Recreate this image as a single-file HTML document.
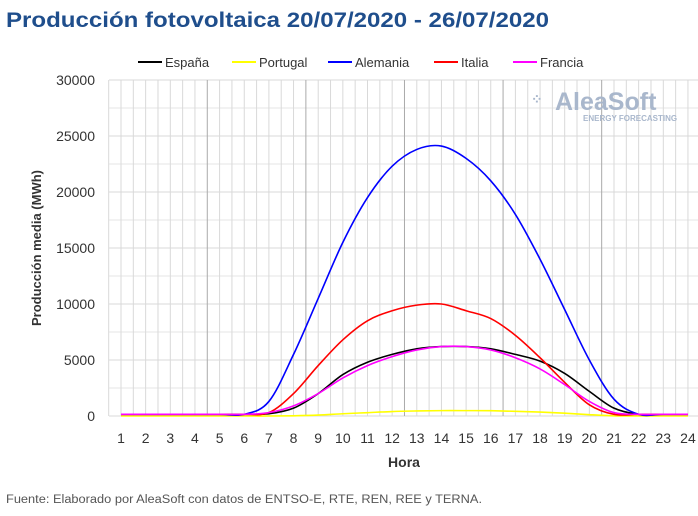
<!DOCTYPE html>
<html><head><meta charset="utf-8"><style>
body{margin:0;background:#fff;width:698px;height:511px;overflow:hidden;font-family:"Liberation Sans",sans-serif}
</style></head><body>
<svg id="s" width="698" height="511" xmlns="http://www.w3.org/2000/svg" font-family="Liberation Sans, sans-serif">
<text x="6" y="27" font-size="21" font-weight="bold" fill="#1f4e8c" textLength="543" lengthAdjust="spacingAndGlyphs">Producción fotovoltaica 20/07/2020 - 26/07/2020</text>
<g id="grid"></g>
<g font-size="13" fill="#333">
<line x1="138" y1="62" x2="162" y2="62" stroke="#000" stroke-width="2"/><text x="165" y="67">España</text>
<line x1="232" y1="62" x2="256" y2="62" stroke="#ffff00" stroke-width="2"/><text x="259" y="67">Portugal</text>
<line x1="328" y1="62" x2="352" y2="62" stroke="#0000ff" stroke-width="2"/><text x="355" y="67">Alemania</text>
<line x1="434" y1="62" x2="458" y2="62" stroke="#ff0000" stroke-width="2"/><text x="461" y="67">Italia</text>
<line x1="513" y1="62" x2="537" y2="62" stroke="#ff00ff" stroke-width="2"/><text x="540" y="67">Francia</text>
</g>
<text x="555" y="110" font-size="25" font-weight="bold" fill="#a9b7cc">AleaSoft</text>
<text x="531" y="104" font-size="14" font-weight="bold" fill="#a9b7cc">⁘</text>
<text x="583" y="121" font-size="8" font-weight="bold" fill="#a9b7cc">ENERGY FORECASTING</text>
<g id="lab" font-size="14" fill="#333"></g>
<text x="404" y="467" font-size="14" font-weight="bold" fill="#333" text-anchor="middle">Hora</text>
<text transform="translate(41,248) rotate(-90)" font-size="13" font-weight="bold" fill="#333" text-anchor="middle">Producción media (MWh)</text>
<text x="6" y="503" font-size="11.5" fill="#555" textLength="476" lengthAdjust="spacingAndGlyphs">Fuente: Elaborado por AleaSoft con datos de ENTSO-E, RTE, REN, REE y TERNA.</text>
<g id="ser" fill="none" stroke-width="1.6"></g>
</svg>
<script>
var NS="http://www.w3.org/2000/svg";
function X(h){return 121+(h-1)*24.65;}
function Y(v){return 416-v*336/30000;}
function el(t,a,p,txt){var e=document.createElementNS(NS,t);for(var k in a)e.setAttribute(k,a[k]);if(txt!=null)e.textContent=txt;p.appendChild(e);return e;}
var g=document.getElementById('grid'),lab=document.getElementById('lab');
for(var v=0;v<=30000;v+=2500){el('line',{x1:109,x2:698,y1:Y(v),y2:Y(v),stroke:v%5000?'#e6e6e6':'#d9d9d9'},g);}
for(var h=0.5;h<=24.5;h+=0.5){var dark=(h%4==0.5&&h>1);el('line',{x1:X(h),x2:X(h),y1:80,y2:416,stroke:dark?'#aaa':'#d9d9d9'},g);}
for(var v=0;v<=30000;v+=5000){el('text',{x:95,y:Y(v)+5,'text-anchor':'end'},lab,String(v));}
for(var h=1;h<=24;h++){el('text',{x:X(h),y:443,'text-anchor':'middle'},lab,String(h));}
var base=150;
var D={
'#000000':[base,base,base,base,base,base,200,700,2000,3700,4800,5500,6000,6200,6200,6000,5500,4900,3800,2200,700,150,base,base],
'#ffff00':[0,0,0,0,0,0,0,20,80,200,300,400,450,480,480,470,420,350,250,120,20,0,0,0],
'#0000ff':[base,base,base,base,base,150,1300,5500,10500,15500,19500,22300,23800,24100,23000,21000,18000,14000,9500,5000,1500,150,base,base],
'#ff0000':[base,base,base,base,base,base,300,2000,4500,6800,8500,9400,9900,10000,9400,8700,7200,5200,3000,1000,150,base,base,base],
'#ff00ff':[base,base,base,base,base,base,300,900,2000,3400,4500,5300,5900,6200,6200,5900,5200,4200,2800,1300,300,base,base,base]};
var s=document.getElementById('ser');
for(var c in D){var a=D[c],p=[];for(var i=0;i<24;i++)p.push([X(i+1),Y(a[i])]);
var d="M"+p[0][0]+","+p[0][1];
for(var i=0;i<23;i++){var p0=p[Math.max(i-1,0)],p1=p[i],p2=p[i+1],p3=p[Math.min(i+2,23)];
d+=" C"+(p1[0]+(p2[0]-p0[0])/6)+","+(p1[1]+(p2[1]-p0[1])/6)+" "+(p2[0]-(p3[0]-p1[0])/6)+","+(p2[1]-(p3[1]-p1[1])/6)+" "+p2[0]+","+p2[1];}
el('path',{d:d,stroke:c},s);}
</script>
</body></html>
